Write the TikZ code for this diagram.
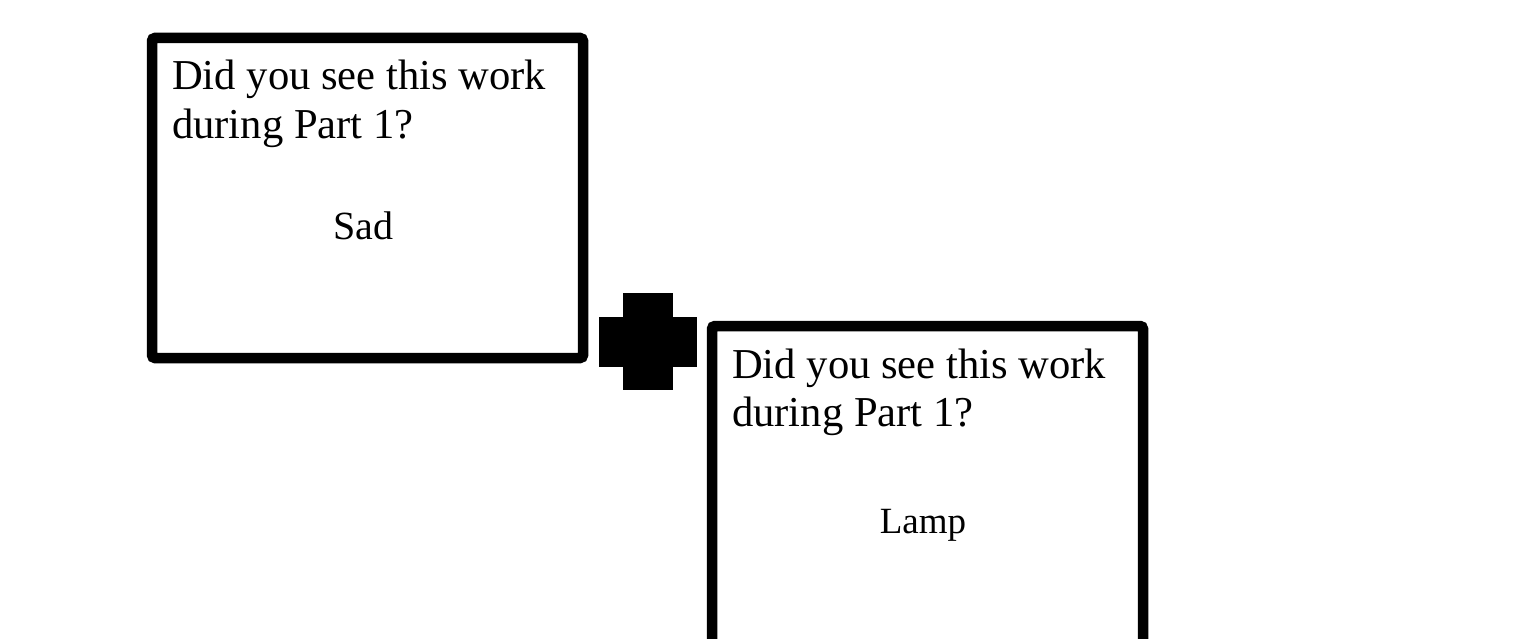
\documentclass[tikz,border=0pt]{standalone}
\usepackage{fontspec}
\setmainfont{Liberation Serif}
\begin{document}
\begin{tikzpicture}[x=1pt,y=-1pt,
  card/.style={draw=black, line width=10.5pt, rounded corners=3pt, fill=white, inner sep=0pt},
  qline/.style={anchor=base west, inner sep=0pt, font=\fontsize{42.6}{48}\selectfont},
  word/.style={anchor=base, inner sep=0pt}]
\useasboundingbox (0,0) rectangle (1532,639);
\clip (0,0) rectangle (1532,639);
\fill[white] (0,0) rectangle (1532,639);

% first card
\node[card, minimum width=431pt, minimum height=320pt] (cardA) at (367.5,198) {};
\node[qline] (qA1) at (172,90) {Did you see this work};
\node[qline] (qA2) at (172,138.5) {during Part 1?};
\node[word, font=\fontsize{40}{46}\selectfont] (wA) at (363,239.5) {Sad};

% plus sign between the cards
\fill[black] (623,293) rectangle (673,390);
\fill[black] (599,317) rectangle (697,367);

% second card, running off the bottom edge
\node[card, minimum width=431pt, minimum height=354pt] (cardB) at (927.5,503) {};
\node[qline] (qB1) at (732,378) {Did you see this work};
\node[qline] (qB2) at (732,426.5) {during Part 1?};
\node[word, font=\fontsize{37}{43}\selectfont] (wB) at (923,533) {Lamp};
\end{tikzpicture}
\end{document}
